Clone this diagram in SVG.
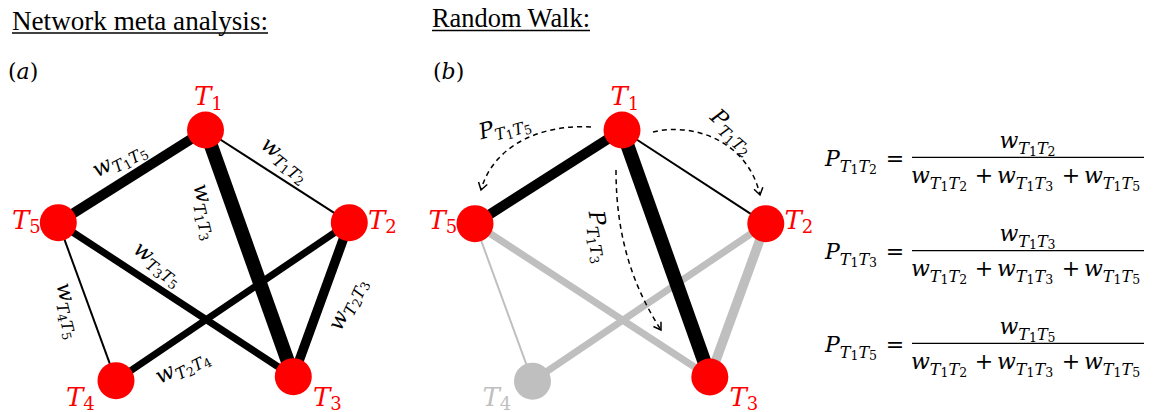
<svg xmlns="http://www.w3.org/2000/svg" width="1157" height="412" viewBox="0 0 1157 412">
<style>
.h{font-family:"Liberation Serif",serif;font-size:26.5px;fill:#000}
.m{font-family:"DejaVu Serif",serif;font-style:italic;font-size:22px;fill:#000}
.e{font-family:"DejaVu Serif",serif;font-style:italic;font-size:22px;fill:#000}
.s{font-size:16px;font-style:italic}
.d{font-size:12.5px;font-style:normal}
.nl{font-family:"DejaVu Serif",serif;font-style:italic;font-size:26px;fill:#ff0000}
.nd{font-size:18px;font-style:normal}
.up{font-style:normal}
.node{fill:#ff0000}
.gray{fill:#bfbfbf}
.k{stroke:#000;fill:none;stroke-linecap:butt}
.g{stroke:#bfbfbf;fill:none;stroke-linecap:butt}
.dash{stroke:#000;fill:none;stroke-width:1.5;stroke-dasharray:5 4}
.bar{stroke:#000;stroke-width:1.3}
</style>
<defs>
<marker id="arr" markerUnits="userSpaceOnUse" markerWidth="14" markerHeight="14" viewBox="-10 -7 12 14" refX="0" refY="0" orient="auto">
<path d="M -7 -4.5 L 0 0 L -7 4.5" fill="none" stroke="#000" stroke-width="1.5" stroke-dasharray="none"/>
</marker>
</defs>
<rect width="1157" height="412" fill="#fff"/>

<g id="headings">
<text class="h" x="12" y="30" textLength="256" lengthAdjust="spacingAndGlyphs">Network meta analysis:</text>
<line x1="12" y1="33" x2="268" y2="33" stroke="#000" stroke-width="1.5"/>
<text class="h" x="432" y="27" textLength="158" lengthAdjust="spacingAndGlyphs">Random Walk:</text>
<line x1="432" y1="30.5" x2="590" y2="30.5" stroke="#000" stroke-width="1.5"/>
<text class="m" x="8" y="79" font-size="23"><tspan class="up">(</tspan>a<tspan class="up">)</tspan></text>
<text class="m" x="433" y="79" font-size="23"><tspan class="up">(</tspan>b<tspan class="up">)</tspan></text>
</g>

<g id="connectors">
<line class="k" x1="205.5" y1="130" x2="58.3" y2="222.7" stroke-width="10"/>
<line class="k" x1="205.5" y1="130" x2="293.3" y2="376.7" stroke-width="14"/>
<line class="k" x1="205.5" y1="130" x2="349.3" y2="222.7" stroke-width="2"/>
<line class="k" x1="58.3" y1="222.7" x2="293.3" y2="376.7" stroke-width="7"/>
<line class="k" x1="349.3" y1="222.7" x2="116" y2="380.7" stroke-width="7"/>
<line class="k" x1="349.3" y1="222.7" x2="293.3" y2="376.7" stroke-width="9.5"/>
<line class="k" x1="58.3" y1="222.7" x2="116" y2="380.7" stroke-width="2"/>
<line class="g" x1="475" y1="223.7" x2="709.8" y2="377" stroke-width="7"/>
<line class="g" x1="765.8" y1="223.7" x2="532.5" y2="381.2" stroke-width="7"/>
<line class="g" x1="765.8" y1="223.7" x2="709.8" y2="377" stroke-width="9.5"/>
<line class="g" x1="475" y1="223.7" x2="532.5" y2="381.2" stroke-width="2"/>
<line class="k" x1="622" y1="130" x2="475" y2="223.7" stroke-width="10"/>
<line class="k" x1="622" y1="130" x2="709.8" y2="377" stroke-width="14"/>
<line class="k" x1="622" y1="130" x2="765.8" y2="223.7" stroke-width="2"/>
<path class="dash" d="M 591 127 C 550 124, 495 140, 481 190" marker-end="url(#arr)"/>
<path class="dash" d="M 653 132 C 695 122, 748 142, 760 195" marker-end="url(#arr)"/>
<path class="dash" d="M 616 170 C 616 235, 632 285, 661 330" marker-end="url(#arr)"/>
</g>

<g id="edge-labels">
<text class="e" text-anchor="middle" y="4" transform="translate(120 161) rotate(-28)">w<tspan class="s" dy="5">T</tspan><tspan class="d" dy="2">1</tspan><tspan class="s" dy="-2">T</tspan><tspan class="d" dy="2">5</tspan></text>
<text class="e" text-anchor="middle" y="4" transform="translate(284 161) rotate(38)">w<tspan class="s" dy="5">T</tspan><tspan class="d" dy="2">1</tspan><tspan class="s" dy="-2">T</tspan><tspan class="d" dy="2">2</tspan></text>
<text class="e" text-anchor="middle" y="4" transform="translate(204 212) rotate(76)">w<tspan class="s" dy="5">T</tspan><tspan class="d" dy="2">1</tspan><tspan class="s" dy="-2">T</tspan><tspan class="d" dy="2">3</tspan></text>
<text class="e" text-anchor="middle" y="4" transform="translate(157 265) rotate(36)">w<tspan class="s" dy="5">T</tspan><tspan class="d" dy="2">3</tspan><tspan class="s" dy="-2">T</tspan><tspan class="d" dy="2">5</tspan></text>
<text class="e" text-anchor="middle" y="4" transform="translate(67 311) rotate(76)">w<tspan class="s" dy="5">T</tspan><tspan class="d" dy="2">4</tspan><tspan class="s" dy="-2">T</tspan><tspan class="d" dy="2">5</tspan></text>
<text class="e" text-anchor="middle" y="4" transform="translate(349 305) rotate(-65)">w<tspan class="s" dy="5">T</tspan><tspan class="d" dy="2">2</tspan><tspan class="s" dy="-2">T</tspan><tspan class="d" dy="2">3</tspan></text>
<text class="e" text-anchor="middle" y="4" transform="translate(183 368) rotate(-27)">w<tspan class="s" dy="5">T</tspan><tspan class="d" dy="2">2</tspan><tspan class="s" dy="-2">T</tspan><tspan class="d" dy="2">4</tspan></text>
<text class="e" text-anchor="middle" y="4" transform="translate(505 129) rotate(-15)">P<tspan class="s" dy="5">T</tspan><tspan class="d" dy="2">1</tspan><tspan class="s" dy="-2">T</tspan><tspan class="d" dy="2">5</tspan></text>
<text class="e" text-anchor="middle" y="4" transform="translate(731 133) rotate(42)">P<tspan class="s" dy="5">T</tspan><tspan class="d" dy="2">1</tspan><tspan class="s" dy="-2">T</tspan><tspan class="d" dy="2">2</tspan></text>
<text class="e" text-anchor="middle" y="4" transform="translate(597 237) rotate(80)">P<tspan class="s" dy="5">T</tspan><tspan class="d" dy="2">1</tspan><tspan class="s" dy="-2">T</tspan><tspan class="d" dy="2">3</tspan></text>
</g>

<g id="a-T1"><circle class="node" cx="205.5" cy="130" r="18.5"/><text class="nl" x="194" y="105">T<tspan class="nd" dy="5">1</tspan></text></g>
<g id="a-T2"><circle class="node" cx="349.3" cy="222.7" r="18.5"/><text class="nl" x="368" y="229">T<tspan class="nd" dy="4">2</tspan></text></g>
<g id="a-T3"><circle class="node" cx="293.3" cy="376.7" r="18.5"/><text class="nl" x="313" y="406">T<tspan class="nd" dy="4">3</tspan></text></g>
<g id="a-T4"><circle class="node" cx="116" cy="380.7" r="18.5"/><text class="nl" x="66" y="406">T<tspan class="nd" dy="4">4</tspan></text></g>
<g id="a-T5"><circle class="node" cx="58.3" cy="222.7" r="18.5"/><text class="nl" x="12" y="229">T<tspan class="nd" dy="4">5</tspan></text></g>

<g id="b-T1"><circle class="node" cx="622" cy="130" r="18.5"/><text class="nl" x="610.5" y="105">T<tspan class="nd" dy="5">1</tspan></text></g>
<g id="b-T2"><circle class="node" cx="765.8" cy="223.7" r="18.5"/><text class="nl" x="784.5" y="229">T<tspan class="nd" dy="4">2</tspan></text></g>
<g id="b-T3"><circle class="node" cx="709.8" cy="377" r="18.5"/><text class="nl" x="729.5" y="406">T<tspan class="nd" dy="4">3</tspan></text></g>
<g id="b-T4"><circle class="gray" cx="532.5" cy="381.2" r="18.5"/><text class="nl" x="482.5" y="406" style="fill:#bfbfbf">T<tspan class="nd" dy="4">4</tspan></text></g>
<g id="b-T5"><circle class="node" cx="475" cy="223.7" r="18.5"/><text class="nl" x="428.5" y="229">T<tspan class="nd" dy="4">5</tspan></text></g>

<g id="formula-12">
<text class="m" x="825" y="166">P<tspan class="s" dy="6">T</tspan><tspan class="d" dy="2">1</tspan><tspan class="s" dy="-2">T</tspan><tspan class="d" dy="2">2</tspan></text>
<text class="m up" x="895" y="166" text-anchor="middle">=</text>
<text class="m" x="1027.5" y="148" text-anchor="middle">w<tspan class="s" dy="6">T</tspan><tspan class="d" dy="2">1</tspan><tspan class="s" dy="-2">T</tspan><tspan class="d" dy="2">2</tspan></text>
<line class="bar" x1="912" y1="157.3" x2="1144" y2="157.3"/>
<text class="m" x="911" y="183">w<tspan class="s" dy="6">T</tspan><tspan class="d" dy="2">1</tspan><tspan class="s" dy="-2">T</tspan><tspan class="d" dy="2">2</tspan></text>
<text class="m up" x="984" y="183" text-anchor="middle">+</text>
<text class="m" x="997" y="183">w<tspan class="s" dy="6">T</tspan><tspan class="d" dy="2">1</tspan><tspan class="s" dy="-2">T</tspan><tspan class="d" dy="2">3</tspan></text>
<text class="m up" x="1071" y="183" text-anchor="middle">+</text>
<text class="m" x="1084" y="183">w<tspan class="s" dy="6">T</tspan><tspan class="d" dy="2">1</tspan><tspan class="s" dy="-2">T</tspan><tspan class="d" dy="2">5</tspan></text>
</g>
<g id="formula-13" transform="translate(0 93.3)">
<text class="m" x="825" y="166">P<tspan class="s" dy="6">T</tspan><tspan class="d" dy="2">1</tspan><tspan class="s" dy="-2">T</tspan><tspan class="d" dy="2">3</tspan></text>
<text class="m up" x="895" y="166" text-anchor="middle">=</text>
<text class="m" x="1027.5" y="148" text-anchor="middle">w<tspan class="s" dy="6">T</tspan><tspan class="d" dy="2">1</tspan><tspan class="s" dy="-2">T</tspan><tspan class="d" dy="2">3</tspan></text>
<line class="bar" x1="912" y1="157.3" x2="1144" y2="157.3"/>
<text class="m" x="911" y="183">w<tspan class="s" dy="6">T</tspan><tspan class="d" dy="2">1</tspan><tspan class="s" dy="-2">T</tspan><tspan class="d" dy="2">2</tspan></text>
<text class="m up" x="984" y="183" text-anchor="middle">+</text>
<text class="m" x="997" y="183">w<tspan class="s" dy="6">T</tspan><tspan class="d" dy="2">1</tspan><tspan class="s" dy="-2">T</tspan><tspan class="d" dy="2">3</tspan></text>
<text class="m up" x="1071" y="183" text-anchor="middle">+</text>
<text class="m" x="1084" y="183">w<tspan class="s" dy="6">T</tspan><tspan class="d" dy="2">1</tspan><tspan class="s" dy="-2">T</tspan><tspan class="d" dy="2">5</tspan></text>
</g>
<g id="formula-15" transform="translate(0 186)">
<text class="m" x="825" y="166">P<tspan class="s" dy="6">T</tspan><tspan class="d" dy="2">1</tspan><tspan class="s" dy="-2">T</tspan><tspan class="d" dy="2">5</tspan></text>
<text class="m up" x="895" y="166" text-anchor="middle">=</text>
<text class="m" x="1027.5" y="148" text-anchor="middle">w<tspan class="s" dy="6">T</tspan><tspan class="d" dy="2">1</tspan><tspan class="s" dy="-2">T</tspan><tspan class="d" dy="2">5</tspan></text>
<line class="bar" x1="912" y1="157.3" x2="1144" y2="157.3"/>
<text class="m" x="911" y="183">w<tspan class="s" dy="6">T</tspan><tspan class="d" dy="2">1</tspan><tspan class="s" dy="-2">T</tspan><tspan class="d" dy="2">2</tspan></text>
<text class="m up" x="984" y="183" text-anchor="middle">+</text>
<text class="m" x="997" y="183">w<tspan class="s" dy="6">T</tspan><tspan class="d" dy="2">1</tspan><tspan class="s" dy="-2">T</tspan><tspan class="d" dy="2">3</tspan></text>
<text class="m up" x="1071" y="183" text-anchor="middle">+</text>
<text class="m" x="1084" y="183">w<tspan class="s" dy="6">T</tspan><tspan class="d" dy="2">1</tspan><tspan class="s" dy="-2">T</tspan><tspan class="d" dy="2">5</tspan></text>
</g>
</svg>
